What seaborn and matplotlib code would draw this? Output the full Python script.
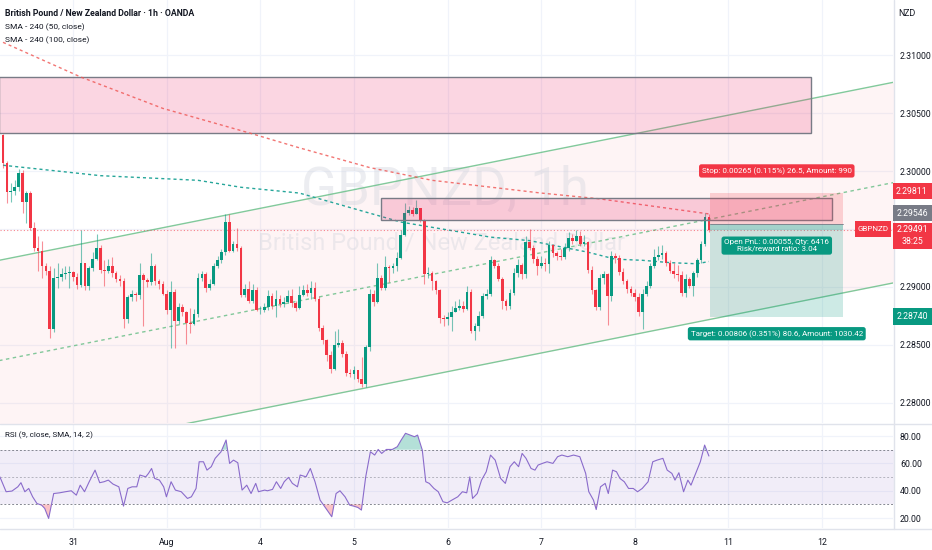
import numpy as np
import matplotlib
matplotlib.use("Agg")
import matplotlib.pyplot as plt
import matplotlib.transforms as mtransforms
from matplotlib.patches import Rectangle
import seaborn as sns

# ---------------- data ----------------
# hourly candles, GBPNZD (open of each bar = previous close)
first_open = 2.3031
closes = [
    2.3007, 2.2982, 2.2983, 2.2986, 2.2998, 2.2973, 2.2981, 2.2951, 2.2934, 2.2931,
    2.2918, 2.2914, 2.2864, 2.2908, 2.2909, 2.2911, 2.2912, 2.2913, 2.2909, 2.2902,
    2.2921, 2.2901, 2.2916, 2.2924, 2.2934, 2.2915, 2.2914, 2.2918, 2.2912, 2.2907,
    2.2905, 2.2872, 2.2891, 2.2894, 2.2893, 2.2910, 2.2906, 2.2904, 2.2918, 2.2905,
    2.2903, 2.2894, 2.2880, 2.2896, 2.2871, 2.2883, 2.2878, 2.2869, 2.2868, 2.2877,
    2.2908, 2.2911, 2.2899, 2.2903, 2.2918, 2.2923, 2.2930, 2.2956, 2.2931, 2.2937,
    2.2934, 2.2893, 2.2898, 2.2888, 2.2897, 2.2880, 2.2880, 2.2883, 2.2892, 2.2884,
    2.2890, 2.2885, 2.2887, 2.2892, 2.2886, 2.2882, 2.2893, 2.2897, 2.2895, 2.2899,
    2.2890, 2.2865, 2.2854, 2.2841, 2.2829, 2.2850, 2.2852, 2.2842, 2.2826, 2.2825,
    2.2828, 2.2821, 2.2816, 2.2848, 2.2894, 2.2887, 2.2908, 2.2899, 2.2917, 2.2916,
    2.2918, 2.2925, 2.2945, 2.2964, 2.2966, 2.2963, 2.2968, 2.2957, 2.2911, 2.2912,
    2.2905, 2.2897, 2.2873, 2.2872, 2.2874, 2.2878, 2.2882, 2.2884, 2.2881, 2.2896,
    2.2862, 2.2866, 2.2875, 2.2892, 2.2894, 2.2923, 2.2918, 2.2907, 2.2888, 2.2884,
    2.2895, 2.2912, 2.2919, 2.2911, 2.2939, 2.2934, 2.2924, 2.2918, 2.2921, 2.2920,
    2.2936, 2.2929, 2.2927, 2.2926, 2.2934, 2.2942, 2.2940, 2.2944, 2.2937, 2.2939,
    2.2915, 2.2897, 2.2883, 2.2908, 2.2911, 2.2892, 2.2927, 2.2925, 2.2913, 2.2905,
    2.2898, 2.2895, 2.2891, 2.2878, 2.2894, 2.2901, 2.2918, 2.2926, 2.2928, 2.2929,
    2.2921, 2.2914, 2.2911, 2.2910, 2.2895, 2.2907, 2.2901, 2.2912, 2.2923, 2.2937,
    2.2960, 2.29491]
highs = [
    2.3032, 2.3009, 2.2990, 2.2992, 2.3002, 2.3001, 2.2983, 2.2983, 2.2956, 2.2944,
    2.2940, 2.2921, 2.2918, 2.2916, 2.2921, 2.2916, 2.2918, 2.2918, 2.2914, 2.2912,
    2.2949, 2.2921, 2.2918, 2.2930, 2.2946, 2.2936, 2.2923, 2.2924, 2.2926, 2.2914,
    2.2910, 2.2908, 2.2893, 2.2897, 2.2896, 2.2921, 2.2912, 2.2908, 2.2929, 2.2920,
    2.2907, 2.2905, 2.2897, 2.2905, 2.2898, 2.2886, 2.2885, 2.2879, 2.2882, 2.2881,
    2.2912, 2.2914, 2.2913, 2.2907, 2.2921, 2.2927, 2.2933, 2.2963, 2.2963, 2.2940,
    2.2951, 2.2935, 2.2903, 2.2905, 2.2903, 2.2900, 2.2884, 2.2886, 2.2897, 2.2895,
    2.2897, 2.2893, 2.2891, 2.2897, 2.2898, 2.2888, 2.2901, 2.2902, 2.2903, 2.2905,
    2.2904, 2.2892, 2.2867, 2.2855, 2.2845, 2.2862, 2.2864, 2.2854, 2.2845, 2.2829,
    2.2832, 2.2828, 2.2840, 2.2850, 2.2898, 2.2897, 2.2921, 2.2910, 2.2927, 2.2919,
    2.2921, 2.2930, 2.2949, 2.2972, 2.2970, 2.2969, 2.2975, 2.2968, 2.2959, 2.2917,
    2.2914, 2.2906, 2.2898, 2.2876, 2.2878, 2.2884, 2.2888, 2.2890, 2.2888, 2.2901,
    2.2898, 2.2869, 2.2879, 2.2895, 2.2898, 2.2927, 2.2924, 2.2921, 2.2909, 2.2890,
    2.2898, 2.2916, 2.2924, 2.2921, 2.2944, 2.2950, 2.2936, 2.2927, 2.2927, 2.2925,
    2.2940, 2.2937, 2.2931, 2.2933, 2.2938, 2.2947, 2.2946, 2.2949, 2.2948, 2.2945,
    2.2940, 2.2918, 2.2898, 2.2911, 2.2914, 2.2912, 2.2931, 2.2929, 2.2928, 2.2916,
    2.2907, 2.2901, 2.2898, 2.2895, 2.2898, 2.2905, 2.2921, 2.2933, 2.2935, 2.2936,
    2.2931, 2.2923, 2.2921, 2.2919, 2.2914, 2.2911, 2.2909, 2.2914, 2.2925, 2.2940,
    2.2964, 2.2963]
lows = [
    2.3003, 2.2972, 2.2973, 2.2979, 2.2983, 2.2964, 2.2955, 2.2949, 2.2931, 2.2914,
    2.2908, 2.2910, 2.2856, 2.2861, 2.2899, 2.2905, 2.2907, 2.2899, 2.2905, 2.2898,
    2.2900, 2.2897, 2.2897, 2.2914, 2.2923, 2.2912, 2.2901, 2.2912, 2.2909, 2.2904,
    2.2901, 2.2865, 2.2869, 2.2888, 2.2888, 2.2890, 2.2866, 2.2900, 2.2902, 2.2902,
    2.2898, 2.2893, 2.2877, 2.2847, 2.2847, 2.2868, 2.2875, 2.2851, 2.2860, 2.2867,
    2.2874, 2.2905, 2.2896, 2.2897, 2.2902, 2.2916, 2.2921, 2.2928, 2.2930, 2.2930,
    2.2931, 2.2891, 2.2891, 2.2886, 2.2886, 2.2879, 2.2877, 2.2878, 2.2880, 2.2881,
    2.2874, 2.2883, 2.2883, 2.2886, 2.2883, 2.2879, 2.2881, 2.2892, 2.2892, 2.2890,
    2.2888, 2.2862, 2.2851, 2.2836, 2.2826, 2.2828, 2.2848, 2.2840, 2.2823, 2.2822,
    2.2821, 2.2818, 2.2814, 2.2814, 2.2845, 2.2884, 2.2886, 2.2897, 2.2897, 2.2904,
    2.2912, 2.2914, 2.2924, 2.2944, 2.2962, 2.2961, 2.2963, 2.2956, 2.2903, 2.2908,
    2.2897, 2.2894, 2.2869, 2.2866, 2.2867, 2.2862, 2.2878, 2.2880, 2.2878, 2.2880,
    2.2860, 2.2854, 2.2862, 2.2873, 2.2890, 2.2892, 2.2916, 2.2905, 2.2881, 2.2880,
    2.2881, 2.2893, 2.2909, 2.2907, 2.2908, 2.2932, 2.2921, 2.2910, 2.2916, 2.2914,
    2.2912, 2.2926, 2.2923, 2.2923, 2.2924, 2.2931, 2.2937, 2.2940, 2.2935, 2.2935,
    2.2912, 2.2894, 2.2880, 2.2880, 2.2903, 2.2867, 2.2888, 2.2921, 2.2910, 2.2903,
    2.2895, 2.2892, 2.2888, 2.2875, 2.2864, 2.2892, 2.2899, 2.2916, 2.2923, 2.2924,
    2.2918, 2.2912, 2.2908, 2.2905, 2.2892, 2.2891, 2.2899, 2.2892, 2.2909, 2.2921,
    2.2935, 2.2947]

# SMA 240-min lines (bar index, price)
sma50_bar = [0, 25, 50, 61, 76, 102, 125, 135, 150, 157, 164, 171, 178, 181]
sma50_val = [2.3005, 2.2996, 2.2992, 2.2986, 2.2981, 2.2956, 2.2943, 2.2940,
             2.2930, 2.2924, 2.2923, 2.2921, 2.2920, 2.2922]
sma100_bar = [0, 10, 20, 41, 63, 76, 94, 110, 138, 153, 181]
sma100_val = [2.3111, 2.3096, 2.3081, 2.3054, 2.3033, 2.3020, 2.3003, 2.2992,
              2.2981, 2.2976, 2.2963]

# parallel channel
channel_bar = [-1, 229]
channel_top = [2.2923, 2.3077]
channel_bottom = [2.2750, 2.2904]

# supply zones (bar from, bar to, low, high)
zone_big = (-1, 207.2, 2.30325, 2.30810)
zone_small = (96.9, 212.6, 2.29582, 2.29764)

# short position tool
pos_start, pos_end = 181.3, 215.4
entry, stop, target, last_price = 2.29546, 2.29811, 2.28740, 2.29491

# RSI (9) readings (bar index, value)
rsi_bar = [-0.8, 0.8, 2.3, 3.8, 4.6, 5.6, 6.6, 7.6, 8.7, 9.9,
           10.7, 11.7, 13.0, 14.5, 16.0, 17.5, 18.8, 19.8, 20.9, 22.1,
           23.6, 24.8, 25.9, 27.0, 28.2, 29.7, 30.9, 32.0, 33.1, 34.3,
           35.1, 36.6, 37.3, 38.1, 38.9, 40.1, 41.2, 41.9, 43.1, 44.2,
           45.7, 47.3, 48.3, 49.5, 50.3, 51.4, 52.3, 53.4, 54.4, 55.9,
           57.2, 58.1, 59.1, 60.2, 61.3, 62.5, 63.6, 64.8, 65.5, 67.1,
           67.8, 69.1, 70.1, 71.2, 72.1, 73.2, 74.2, 75.5, 76.2, 77.7,
           78.8, 80.0, 81.3, 82.8, 84.3, 85.4, 86.4, 87.7, 88.9, 89.9,
           91.0, 91.9, 93.0, 94.2, 95.3, 96.2, 97.1, 98.3, 99.8, 101.1,
           102.1, 103.2, 104.4, 105.5, 106.3, 107.5, 108.4, 109.3, 110.5, 111.6,
           112.8, 113.9, 115.1, 116.6, 117.8, 118.9, 119.7, 120.4, 121.6, 122.7,
           123.9, 125.0, 126.2, 127.6, 128.8, 130.0, 131.1, 132.2, 133.1, 134.1,
           135.4, 136.4, 137.2, 138.3, 139.5, 141.0, 142.2, 143.3, 144.8, 146.3,
           147.9, 149.4, 150.2, 151.4, 152.1, 153.2, 154.4, 155.2, 156.3, 157.3,
           158.2, 159.3, 160.4, 161.6, 162.7, 163.9, 165.4, 166.6, 167.7, 169.2,
           170.3, 171.5, 172.3, 173.3, 174.5, 175.6, 176.4, 177.6, 178.8, 179.9,
           181.0]
rsi_val = [50.2, 39.3, 39.8, 42.9, 45.9, 39.3, 41.7, 35.6, 30.7, 29.5,
           27.1, 19.8, 38.0, 38.5, 39.3, 40.0, 36.8, 44.1, 39.3, 46.6,
           55.1, 45.9, 46.6, 47.8, 44.9, 42.9, 28.8, 41.7, 42.9, 42.9,
           51.5, 50.2, 52.7, 56.3, 49.0, 47.8, 42.9, 35.6, 46.6, 40.5,
           39.3, 34.4, 35.6, 41.7, 61.2, 61.2, 55.1, 57.6, 63.7, 68.5,
           77.1, 60.0, 62.4, 60.5, 40.5, 44.1, 38.0, 45.4, 39.3, 40.5,
           40.0, 41.0, 46.6, 41.7, 46.6, 49.8, 45.4, 42.9, 51.5, 50.2,
           56.3, 46.6, 33.2, 27.1, 21.0, 38.0, 40.0, 35.6, 29.5, 28.8,
           27.8, 25.9, 50.2, 68.5, 66.1, 70.2, 67.3, 70.2, 70.2, 72.2,
           77.1, 82.0, 80.7, 79.5, 80.7, 69.8, 46.6, 45.4, 41.7, 39.3,
           32.0, 31.2, 33.2, 35.6, 39.3, 38.5, 50.2, 34.4, 38.0, 47.8,
           53.9, 66.1, 62.4, 49.0, 45.4, 57.6, 61.2, 57.6, 67.3, 63.7,
           56.3, 55.1, 58.8, 60.0, 61.2, 60.0, 64.9, 66.1, 64.9, 66.1,
           64.9, 52.7, 39.3, 33.2, 26.3, 42.9, 45.4, 38.0, 55.1, 53.9,
           49.0, 46.6, 41.7, 41.7, 39.3, 41.7, 46.6, 61.2, 62.4, 63.7,
           55.1, 52.7, 47.8, 53.2, 39.3, 47.8, 44.1, 52.7, 61.2, 73.4,
           65.4]

day_ticks = [18, 42, 66, 90, 114, 138, 162, 186, 210]
day_labels = ['31', 'Aug', '4', '5', '6', '7', '8', '11', '12']
price_ticks = [2.31, 2.305, 2.30, 2.29, 2.285, 2.28]
rsi_ticks = [20, 40, 60, 80]

UP, DOWN = '#089981', '#f23645'
TXT = '#131722'

# ---------------- figure ----------------
sns.set_theme(style="white")
plt.rcParams['font.family'] = ['Roboto', 'DejaVu Sans']

W, H = 932, 550
fig = plt.figure(figsize=(W / 100, H / 100), dpi=100)
fig.patch.set_facecolor('white')


def px_rect(x0, y0, x1, y1):
    return [x0 / W, 1 - y1 / H, (x1 - x0) / W, (y1 - y0) / H]


ax = fig.add_axes(px_rect(0, 0, 893, 423))
ax_rsi = fig.add_axes(px_rect(0, 424, 893, 528))

for a in (ax, ax_rsi):
    a.set_xlim(-0.77, 228.2)
    a.set_facecolor('white')
    for s in a.spines.values():
        s.set_visible(False)
    for t in day_ticks:
        a.axvline(t, color='#f0f3fa', lw=0.9, zorder=0)

ax.set_ylim(2.27827, 2.31475)
ax_rsi.set_ylim(12.8, 88.8)
for p in price_ticks + [2.295]:
    ax.axhline(p, color='#f0f3fa', lw=0.9, zorder=0)
for r in rsi_ticks:
    ax_rsi.axhline(r, color='#f0f3fa', lw=0.9, zorder=0)

# channel background and lines
chan_col = '#6cc08a'
ax.fill_between(channel_bar, channel_bottom, channel_top, color=DOWN, alpha=0.05, lw=0, zorder=0.5)
ax.plot(channel_bar, channel_top, color=chan_col, alpha=0.85, lw=1, zorder=2)
ax.plot(channel_bar, channel_bottom, color=chan_col, alpha=0.85, lw=1, zorder=2)
mid = [(a + b) / 2 for a, b in zip(channel_top, channel_bottom)]
ax.plot(channel_bar, mid, color=chan_col, alpha=0.85, lw=1, ls=(0, (2.5, 2.5)), zorder=2)

# watermark
ax.text(0.498, 0.55, 'GBPNZD, 1h', transform=ax.transAxes, ha='center', va='center',
        fontsize=38, color='#d1d4dc', alpha=0.4, zorder=1)
ax.text(0.494, 0.425, 'British Pound / New Zealand Dollar', transform=ax.transAxes,
        ha='center', va='center', fontsize=17, color='#d1d4dc', alpha=0.4, zorder=1)

# big supply zone
pink = (233 / 255, 30 / 255, 99 / 255, 0.18)
b0, b1, lo, hi = zone_big
ax.add_patch(Rectangle((b0, lo), b1 - b0, hi - lo, fc=pink, ec='#787b86', lw=1, zorder=2))

# SMA lines
sns.lineplot(x=sma50_bar, y=sma50_val, ax=ax, color='#26a69a', lw=1.0, zorder=3)
ax.lines[-1].set_linestyle((0, (2.2, 2.2)))
sns.lineplot(x=sma100_bar, y=sma100_val, ax=ax, color='#ef5350', lw=1.0, alpha=0.8, zorder=3)
ax.lines[-1].set_linestyle((0, (2.2, 2.2)))

# candles
c = np.array(closes)
o = np.array([first_open] + closes[:-1])
x = np.arange(len(c))
cols = np.where(c >= o, UP, DOWN)
ax.vlines(x, lows, highs, colors=cols, lw=0.8, alpha=0.55, zorder=4)
body = np.maximum(np.abs(c - o), 0.00004)
ax.bar(x, body, bottom=np.minimum(o, c), width=0.7, color=cols, lw=0, zorder=5)

# current price line
ax.axhline(last_price, color=DOWN, lw=0.8, alpha=0.6, ls=(0, (1, 2)), zorder=3)

# small zone over candles
b0, b1, lo, hi = zone_small
ax.add_patch(Rectangle((b0, lo), b1 - b0, hi - lo, fc=(233 / 255, 30 / 255, 99 / 255, 0.2),
                       ec='#787b86', lw=1, zorder=6))

# position tool
pw = pos_end - pos_start
ax.add_patch(Rectangle((pos_start, entry), pw, stop - entry, fc=(242 / 255, 54 / 255, 69 / 255, 0.2),
                       lw=0, zorder=6))
ax.add_patch(Rectangle((pos_start, target), pw, entry - target, fc=(8 / 255, 153 / 255, 129 / 255, 0.2),
                       lw=0, zorder=6))
ax.add_patch(Rectangle((pos_start, last_price), pw, entry - last_price,
                       fc=(8 / 255, 153 / 255, 129 / 255, 0.2), lw=0, zorder=6))
ax.plot([pos_start, pos_end], [entry, entry], color='#787b86', lw=0.6, zorder=6)

lab_x = 198.4
box = dict(boxstyle='round,pad=0.35,rounding_size=0.3', ec='none')
ax.text(lab_x, 2.30001, 'Stop: 0.00265 (0.115%) 26.5, Amount: 990', ha='center', va='center',
        fontsize=5.8, color='white', zorder=10, bbox=dict(box, fc=DOWN))
ax.text(lab_x, 2.29357, 'Open PnL: 0.00055, Qty: 6416\nRisk/reward ratio: 3.04', ha='center',
        va='center', fontsize=5.8, color='white', linespacing=1.1, zorder=10, bbox=dict(box, fc=UP))
ax.text(lab_x, 2.28597, 'Target: 0.00806 (0.351%) 80.6, Amount: 1030.42', ha='center', va='center',
        fontsize=5.8, color='white', zorder=10, bbox=dict(box, fc=UP))

# price axis
ax.yaxis.tick_right()
ax.set_yticks(price_ticks)
ax.set_yticklabels([f'{p:.5f}' for p in price_ticks])
ax.tick_params(axis='y', length=0, pad=5, labelsize=6.3, labelcolor=TXT)
ax.tick_params(axis='x', bottom=False, labelbottom=False)
ax.set_xlabel('')
ax.set_ylabel('')

# price axis tags
tr = mtransforms.blended_transform_factory(fig.transFigure, ax.transData)


def tag(lo, hi, color, x0=893, x1=932):
    fig.add_artist(Rectangle((x0 / W, lo), (x1 - x0) / W, hi - lo, transform=tr,
                             fc=color, ec='none', zorder=20))


tag(2.29755, 2.29893, DOWN)
fig.text(912 / W, 2.29824, '2.29811', transform=tr, ha='center', va='center',
         fontsize=6.3, color='white', zorder=21)
tag(2.29565, 2.29703, '#787b86')
fig.text(912 / W, 2.29634, '2.29546', transform=tr, ha='center', va='center',
         fontsize=6.3, color='white', zorder=21)
tag(2.29331, 2.29556, DOWN)
fig.text(912 / W, 2.29496, '2.29491', transform=tr, ha='center', va='center',
         fontsize=6.3, color='white', zorder=21)
fig.text(912 / W, 2.29392, '38:25', transform=tr, ha='center', va='center',
         fontsize=6.3, color='white', zorder=21)
tag(2.29435, 2.29565, DOWN, 855, 891)
fig.text(873 / W, 2.29500, 'GBPNZD', transform=tr, ha='center', va='center',
         fontsize=5.8, color='white', zorder=21)
tag(2.28674, 2.28821, UP)
fig.text(912 / W, 2.28747, '2.28740', transform=tr, ha='center', va='center',
         fontsize=6.3, color='white', zorder=21)
fig.text(907 / W, 1 - 13 / H, 'NZD', ha='center', va='center', fontsize=6.3, color=TXT)

# legend text
fig.text(5 / W, 1 - 13 / H, 'British Pound / New Zealand Dollar · 1h · OANDA', ha='left',
         va='center', fontsize=6.3, fontweight='bold', color=TXT)
fig.text(5 / W, 1 - 27 / H, 'SMA - 240 (50, close)', ha='left', va='center', fontsize=6.0, color=TXT)
fig.text(5 / W, 1 - 40 / H, 'SMA - 240 (100, close)', ha='left', va='center', fontsize=6.0, color=TXT)

# ---------------- RSI pane ----------------
ax_rsi.fill_between([-1, 229], 30, 70, color='#7e57c2', alpha=0.1, lw=0, zorder=0.5)
for lvl, al in ((70, 0.9), (50, 0.5), (30, 0.9)):
    ax_rsi.axhline(lvl, color='#787b86', lw=0.7, alpha=al, ls=(0, (2, 2)), zorder=1)
rv = np.array(rsi_val)
ax_rsi.fill_between(rsi_bar, 70, rv, where=rv > 70, interpolate=True, color=UP, alpha=0.3, lw=0, zorder=2)
ax_rsi.fill_between(rsi_bar, 30, rv, where=rv < 30, interpolate=True, color=DOWN, alpha=0.3, lw=0, zorder=2)
sns.lineplot(x=rsi_bar, y=rsi_val, ax=ax_rsi, color='#8a6bcb', lw=0.8, zorder=3)
ax_rsi.yaxis.tick_right()
ax_rsi.set_yticks(rsi_ticks)
ax_rsi.set_yticklabels([f'{r:.2f}' for r in rsi_ticks])
ax_rsi.set_xticks(day_ticks)
ax_rsi.set_xticklabels(day_labels)
ax_rsi.tick_params(axis='y', length=0, pad=5, labelsize=6.3, labelcolor=TXT)
ax_rsi.tick_params(axis='x', length=0, pad=7, labelsize=6.3, labelcolor=TXT)
ax_rsi.set_xlabel('')
ax_rsi.set_ylabel('')
ax_rsi.text(5 / 893, 0.89, 'RSI (9, close, SMA, 14, 2)', transform=ax_rsi.transAxes, ha='left',
            va='center', fontsize=5.8, color=TXT)

# pane separators
fig.add_artist(plt.Line2D([0, 1], [1 - 423.5 / H] * 2, color='#e0e3eb', lw=1))
fig.add_artist(plt.Line2D([0, 1], [1 - 528.5 / H] * 2, color='#e0e3eb', lw=1))
fig.add_artist(plt.Line2D([893.5 / W] * 2, [1 - 528.5 / H, 1], color='#e0e3eb', lw=1))

fig.savefig('out.png', dpi=100)
